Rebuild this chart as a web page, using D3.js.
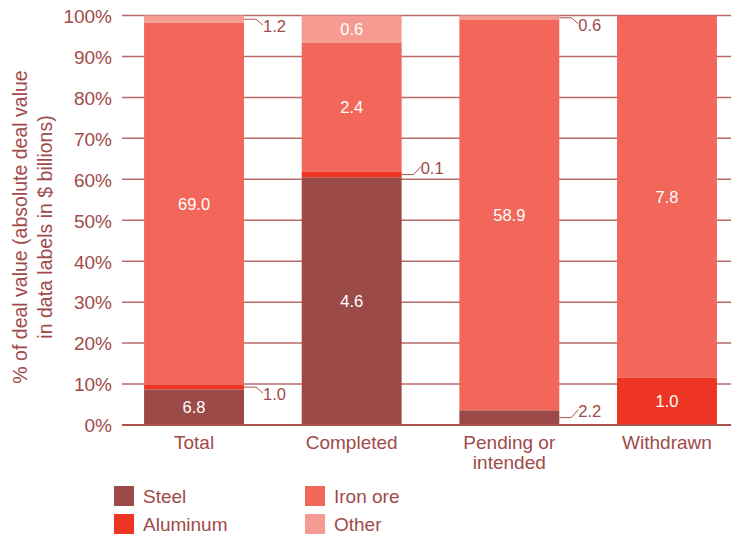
<!DOCTYPE html>
<html>
<head>
<meta charset="utf-8">
<script src="https://cdn.jsdelivr.net/npm/d3@7"></script>
<style>
  body { margin: 0; background: #fff; }
  text { font-family: "Liberation Sans", Arial, sans-serif; }
</style>
</head>
<body>
<svg id="canvas"></svg>
<script>
let width = 743;
let height = 535;

// categories on the x axis (line breaks with "|")
let categories = ['Total', 'Completed', 'Pending or|intended', 'Withdrawn'];
let series = ['Steel', 'Aluminum', 'Iron ore', 'Other'];

// share of deal value in %
let steelPct    = [8.7, 60.5, 3.6, 0];
let aluminumPct = [1.1, 1.3, 0, 11.5];
let ironPct     = [88.4, 31.5, 95.3, 88.5];
let otherPct    = [1.8, 6.7, 1.1, 0];

// absolute deal value labels ($ billions)
let steelLbl    = ['6.8', '4.6', '2.2', ''];
let aluminumLbl = ['1.0', '0.1', '', '1.0'];
let ironLbl     = ['69.0', '2.4', '58.9', '7.8'];
let otherLbl    = ['1.2', '0.6', '0.6', ''];

let yTicks = [0, 10, 20, 30, 40, 50, 60, 70, 80, 90, 100];

let colors = ['#9b4a48', '#ee3524', '#f2675a', '#f59b91'];
let textColor = '#a04a4a';

let pcts = [steelPct, aluminumPct, ironPct, otherPct];
let lbls = [steelLbl, aluminumLbl, ironLbl, otherLbl];

let canvas = d3.select('#canvas')
  .attr('width', width)
  .attr('height', height);

let xScale = d3.scaleBand()
  .domain(categories)
  .range([122, 739])
  .paddingInner(0.366)
  .paddingOuter(0.14);

let yScale = d3.scaleLinear()
  .domain([0, 100])
  .range([425, 15.5]);

// gridlines
canvas.append('g')
  .selectAll('line')
  .data(yTicks)
  .enter()
  .append('line')
  .attr('x1', 122)
  .attr('x2', 731)
  .attr('y1', d => yScale(d))
  .attr('y2', d => yScale(d))
  .attr('stroke', '#b86a68')
  .attr('stroke-width', 1.5);

// y axis labels
let yAxis = d3.axisLeft(yScale)
  .tickValues(yTicks)
  .tickFormat(d => d + '%')
  .tickSize(0)
  .tickPadding(10);

let yg = canvas.append('g')
  .attr('transform', 'translate(122,0)')
  .call(yAxis);
yg.select('.domain').remove();
yg.selectAll('text')
  .attr('fill', textColor)
  .style('font-size', '19px')
  .attr('dy', '0.36em');

// stacked segments
let stackData = [];
categories.forEach((c, i) => {
  let base = 0;
  series.forEach((s, j) => {
    let v = pcts[j][i];
    stackData.push({ cat: c, series: j, y0: base, y1: base + v, label: lbls[j][i] });
    base += v;
  });
});

canvas.append('g')
  .selectAll('rect')
  .data(stackData.filter(d => d.y1 > d.y0))
  .enter()
  .append('rect')
  .attr('x', d => xScale(d.cat))
  .attr('width', xScale.bandwidth())
  .attr('y', d => yScale(d.y1))
  .attr('height', d => yScale(d.y0) - yScale(d.y1))
  .attr('fill', d => colors[d.series]);

// x axis base line
canvas.append('line')
  .attr('x1', 122)
  .attr('x2', 731)
  .attr('y1', yScale(0))
  .attr('y2', yScale(0))
  .attr('stroke', '#a8504e')
  .attr('stroke-width', 2);

// labels: inside when the segment is tall enough, else outside with a leader
let labelled = stackData.filter(d => d.label !== '');
let inside = labelled.filter(d => yScale(d.y0) - yScale(d.y1) > 18);
let outside = labelled.filter(d => yScale(d.y0) - yScale(d.y1) <= 18);

canvas.append('g')
  .selectAll('text')
  .data(inside)
  .enter()
  .append('text')
  .attr('x', d => xScale(d.cat) + xScale.bandwidth() / 2)
  .attr('y', d => yScale((d.y0 + d.y1) / 2))
  .attr('dy', '0.36em')
  .attr('text-anchor', 'middle')
  .attr('fill', '#fff')
  .style('font-size', '16.5px')
  .text(d => d.label);

// leaders go upward for the small labels close to a gridline below them
let goesUp = d => (d.cat === 'Completed' && d.series === 1) || (d.cat === 'Pending or|intended' && d.series === 0);

let out = canvas.append('g')
  .selectAll('g')
  .data(outside)
  .enter()
  .append('g')
  .attr('transform', d => {
    let x = xScale(d.cat) + xScale.bandwidth();
    let y = yScale((d.y0 + d.y1) / 2);
    return 'translate(' + x + ',' + y + ')';
  });

out.append('path')
  .attr('d', d => {
    let dy = goesUp(d) ? -8 : 6;
    return 'M0,0H12L19,' + dy;
  })
  .attr('fill', 'none')
  .attr('stroke', '#a8504e')
  .attr('stroke-width', 1);

out.append('text')
  .attr('x', 19)
  .attr('y', d => goesUp(d) ? -7 : 7)
  .attr('dy', '0.36em')
  .attr('fill', textColor)
  .style('font-size', '16.5px')
  .text(d => d.label);

// category labels
let catG = canvas.append('g')
  .selectAll('text')
  .data(categories)
  .enter()
  .append('text')
  .attr('x', d => xScale(d) + xScale.bandwidth() / 2)
  .attr('y', 449)
  .attr('text-anchor', 'middle')
  .attr('fill', textColor)
  .style('font-size', '19px');

catG.selectAll('tspan')
  .data(d => d.split('|'))
  .enter()
  .append('tspan')
  .attr('x', function() { return d3.select(this.parentNode).attr('x'); })
  .attr('dy', (d, i) => i === 0 ? 0 : 20)
  .text(d => d);

// y axis title
let yTitle = ['% of deal value (absolute deal value', 'in data labels in $ billions)'];
canvas.append('text')
  .attr('transform', 'translate(20,227) rotate(-90)')
  .attr('text-anchor', 'middle')
  .attr('fill', textColor)
  .style('font-size', '19.5px')
  .selectAll('tspan')
  .data(yTitle)
  .enter()
  .append('tspan')
  .attr('x', 0)
  .attr('dy', (d, i) => i === 0 ? '0.36em' : 25)
  .text(d => d);

// legend, two columns
let legendOrder = [0, 2, 1, 3];
let legend = canvas.append('g')
  .selectAll('g')
  .data(legendOrder)
  .enter()
  .append('g')
  .attr('transform', (d, i) => 'translate(' + (i % 2 === 0 ? 114 : 305) + ',' + (486 + Math.floor(i / 2) * 28) + ')');

legend.append('rect')
  .attr('width', 20)
  .attr('height', 20)
  .attr('fill', d => colors[d]);

legend.append('text')
  .attr('x', 29)
  .attr('y', 10)
  .attr('dy', '0.36em')
  .attr('fill', textColor)
  .style('font-size', '19px')
  .text(d => series[d]);
</script>
</body>
</html>
